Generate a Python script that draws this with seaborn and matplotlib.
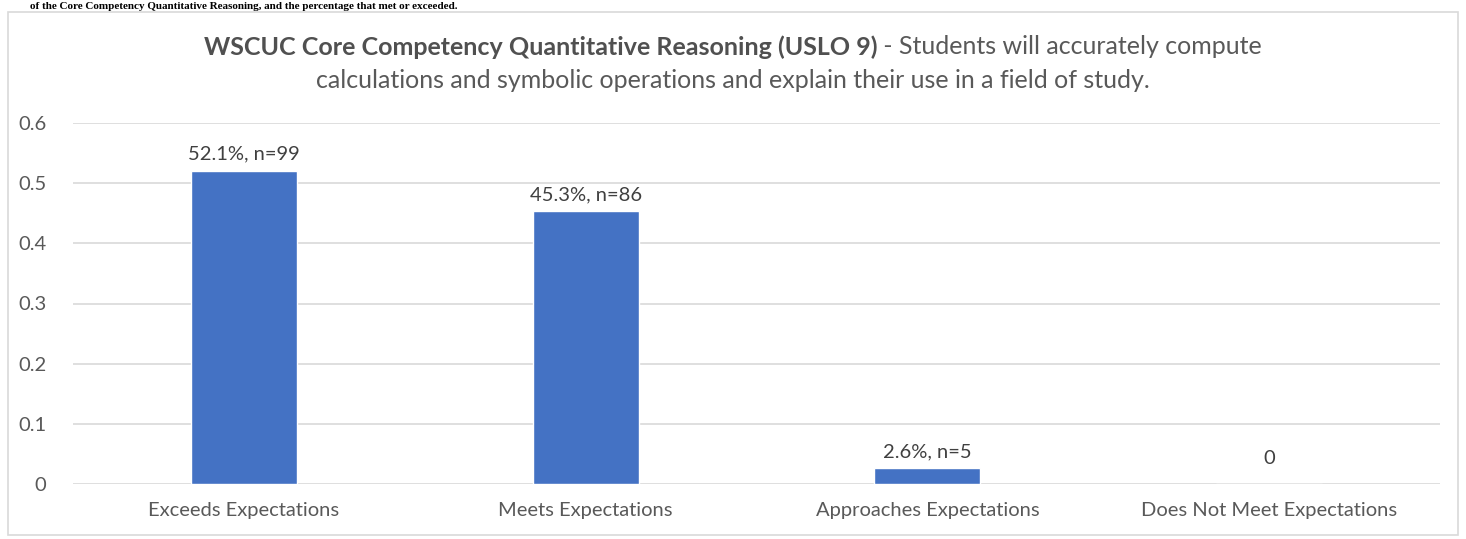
import matplotlib
matplotlib.use("Agg")
import matplotlib.pyplot as plt
import seaborn as sns
import pandas as pd
from matplotlib.patches import Rectangle

categories = ["Exceeds Expectations", "Meets Expectations", "Approaches Expectations", "Does Not Meet Expectations"]
values = [0.521, 0.453, 0.026, 0.0]
bar_labels = ["52.1%, n=99", "45.3%, n=86", "2.6%, n=5", "0"]
yticks = [0, 0.1, 0.2, 0.3, 0.4, 0.5, 0.6]
ytick_labels = ["0", "0.1", "0.2", "0.3", "0.4", "0.5", "0.6"]
title_bold = "WSCUC Core Competency Quantitative Reasoning (USLO 9)"
title_rest = " - Students will accurately compute"
title_line2 = "calculations and symbolic operations and explain their use in a field of study."
doc_text = "of the Core Competency Quantitative Reasoning, and the percentage that met or exceeded."

sns.set_theme(style="white")
plt.rcParams['font.family'] = ['Lato', 'DejaVu Sans']

W, H = 1466, 539
fig = plt.figure(figsize=(W/100, H/100), dpi=100)
fig.patch.set_facecolor("white")

# document text line above the chart (kept fully inside the picture)
fig.text(30/W, 1 - 9/H, doc_text, fontsize=8, fontweight="bold", color="black",
         family=["Liberation Serif", "DejaVu Serif"], va="baseline", ha="left")

# chart frame
fig.patches.append(Rectangle((8/W, 4/H), (1458-8)/W, (527-4)/H, transform=fig.transFigure,
                             fill=False, edgecolor="#d9d9d9", linewidth=1.2))

ax = fig.add_axes([73/W, 55/H, (1440-73)/W, (484-123)/H])
df = pd.DataFrame({"cat": categories, "val": values})
sns.barplot(data=df, x="cat", y="val", color="#4472C4", saturation=1, width=0.31, ax=ax, zorder=3)
ax.set_xlim(-0.5, 3.5)
ax.set_ylim(0, 0.6)
ax.set_yticks(yticks)
ax.set_yticklabels(ytick_labels)
ax.yaxis.grid(True, color="#d9d9d9", linewidth=1.2, zorder=0)
ax.set_axisbelow(True)
for s in ax.spines.values():
    s.set_visible(False)
ax.set_xlabel("")
ax.set_ylabel("")
ax.tick_params(axis="x", length=0, pad=13, labelsize=14.5, labelcolor="#595959")
ax.tick_params(axis="y", length=0, pad=19, labelsize=14.5, labelcolor="#595959")

for i, (v, lab) in enumerate(zip(values, bar_labels)):
    off = 0.014 if v > 0.01 else 0.028
    ax.text(i, v + off, lab, ha="center", va="bottom", fontsize=14.5, color="#404040")

# title
t1 = fig.text(0, 1 - 47/H, title_bold, fontsize=18, fontweight="bold", color="#505050", va="center", ha="left")
t2 = fig.text(0, 1 - 47/H, title_rest, fontsize=18, color="#595959", va="center", ha="left")
fig.text(733/W, 1 - 80/H, title_line2, fontsize=18, color="#595959", va="center", ha="center")
fig.canvas.draw()
r = fig.canvas.get_renderer()
w1 = t1.get_window_extent(r).width
w2 = t2.get_window_extent(r).width
x0 = 733 - (w1 + w2) / 2
t1.set_x(x0 / W)
t2.set_x((x0 + w1) / W)

fig.savefig("out.png", dpi=100, facecolor="white")
